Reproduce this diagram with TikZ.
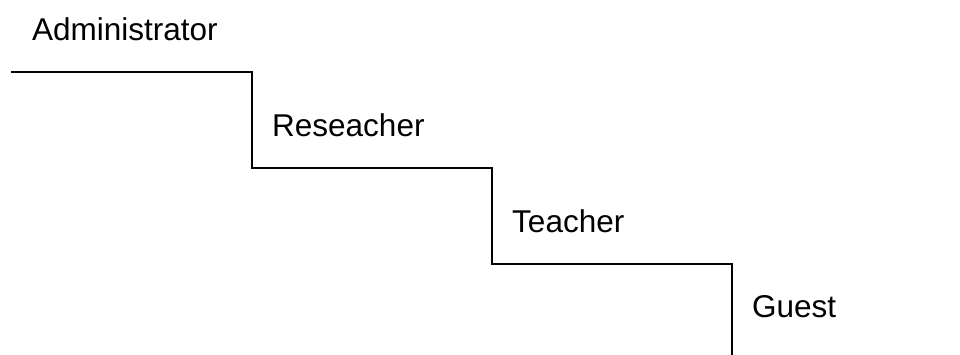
\documentclass[tikz,border=0pt]{standalone}
\usepackage{fontspec}
\setmainfont{Liberation Sans}
\begin{document}
\begin{tikzpicture}[x=1pt,y=-1pt,
  rolelabel/.style={anchor=base west,inner sep=0pt,font=\fontsize{31.5}{36}\selectfont},
  stair/.style={line width=1.7pt,black}]
  \useasboundingbox (0,0) rectangle (960,354);
  % role labels, one per step
  \node[rolelabel] (admin) at (32,40) {Administrator};
  \node[rolelabel] (research) at (272,136) {Reseacher};
  \node[rolelabel] (teacher) at (512,232.5) {Teacher};
  \node[rolelabel] (guest) at (752,317.5) {Guest};
  % corners of the staircase
  \coordinate (s0) at (11,72);
  \coordinate (s1) at (252,72);
  \coordinate (s2) at (252,168);
  \coordinate (s3) at (492,168);
  \coordinate (s4) at (492,264);
  \coordinate (s5) at (732,264);
  \coordinate (s6) at (732,356);
  \draw[stair] (s0) -- (s1) -- (s2) -- (s3) -- (s4) -- (s5) -- (s6);
\end{tikzpicture}
\end{document}
